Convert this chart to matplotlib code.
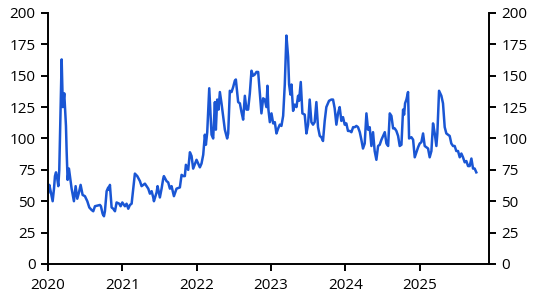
import numpy as np
import matplotlib.pyplot as plt

# fractional year, value
t = [2020.004, 2020.018, 2020.036, 2020.063, 2020.081, 2020.094, 2020.108, 2020.125,
     2020.139, 2020.152, 2020.161, 2020.184, 2020.200, 2020.219,
     2020.242, 2020.251, 2020.264, 2020.282, 2020.296, 2020.318, 2020.349, 2020.372,
     2020.394, 2020.417, 2020.439, 2020.466, 2020.497, 2020.529, 2020.556, 2020.587,
     2020.609, 2020.632, 2020.699, 2020.712, 2020.735, 2020.753, 2020.766, 2020.789,
     2020.811, 2020.824, 2020.833, 2020.856, 2020.878, 2020.901, 2020.923, 2020.959,
     2020.977, 2021.0, 2021.035, 2021.057, 2021.080, 2021.102, 2021.125, 2021.169,
     2021.201, 2021.237, 2021.259, 2021.304, 2021.349, 2021.371, 2021.394, 2021.416,
     2021.425, 2021.461, 2021.474, 2021.505, 2021.528, 2021.550, 2021.559, 2021.595,
     2021.617, 2021.640, 2021.662, 2021.694, 2021.729, 2021.774, 2021.797, 2021.819,
     2021.841, 2021.855, 2021.886, 2021.909, 2021.931, 2021.953, 2021.998, 2022.043,
     2022.065, 2022.088, 2022.110, 2022.124, 2022.142, 2022.169, 2022.200, 2022.222,
     2022.245, 2022.258, 2022.276, 2022.294, 2022.312, 2022.334, 2022.357, 2022.379,
     2022.410, 2022.424, 2022.446, 2022.469, 2022.491, 2022.513, 2022.527, 2022.558,
     2022.581, 2022.603, 2022.625, 2022.648, 2022.670, 2022.692, 2022.715, 2022.737,
     2022.759, 2022.782, 2022.804, 2022.827, 2022.849, 2022.871, 2022.894, 2022.916,
     2022.938, 2022.952, 2022.965, 2022.984, 2023.006, 2023.029, 2023.051, 2023.073,
     2023.096, 2023.118, 2023.140, 2023.163, 2023.185, 2023.207, 2023.230, 2023.243,
     2023.261, 2023.275, 2023.297, 2023.319, 2023.342, 2023.364, 2023.377, 2023.400,
     2023.422, 2023.453, 2023.476, 2023.498, 2023.520, 2023.543, 2023.565, 2023.587,
     2023.610, 2023.632, 2023.656, 2023.677, 2023.699, 2023.722, 2023.744, 2023.780,
     2023.811, 2023.834, 2023.856, 2023.879, 2023.901, 2023.923, 2023.946, 2023.968,
     2023.991, 2024.013, 2024.035, 2024.059, 2024.081, 2024.104, 2024.126, 2024.148,
     2024.170, 2024.194, 2024.215, 2024.237, 2024.260, 2024.283, 2024.305, 2024.327,
     2024.350, 2024.372, 2024.394, 2024.417, 2024.440, 2024.462, 2024.485, 2024.507,
     2024.530, 2024.552, 2024.575, 2024.597, 2024.619, 2024.642, 2024.664, 2024.686,
     2024.709, 2024.731, 2024.754, 2024.776, 2024.790, 2024.803, 2024.821, 2024.843,
     2024.857, 2024.888, 2024.911, 2024.933, 2024.955, 2024.978, 2025.0, 2025.022,
     2025.045, 2025.067, 2025.090, 2025.112, 2025.134, 2025.157, 2025.179, 2025.202,
     2025.224, 2025.237, 2025.260, 2025.291, 2025.313, 2025.336, 2025.358, 2025.381,
     2025.403, 2025.425, 2025.448, 2025.470, 2025.492, 2025.515, 2025.538, 2025.560,
     2025.582, 2025.605, 2025.627, 2025.650, 2025.672, 2025.695, 2025.717, 2025.739,
     2025.761]
v = [57, 63, 58, 50, 60, 70, 73, 68,
     62, 75, 100, 163, 125, 136,
     110, 90, 67, 76, 70, 60, 50, 62,
     52, 57, 63, 55, 54, 50, 45, 43,
     42, 46, 47, 46, 40, 38, 42, 58,
     61, 59, 63, 45, 44, 42, 49, 48,
     46, 49, 46, 48, 44, 47, 48, 72,
     70, 66, 62, 64, 60, 56, 58, 53,
     50, 57, 62, 53, 60, 68, 70, 66,
     65, 60, 62, 54, 60, 61, 71, 70,
     70, 79, 75, 89, 86, 76, 83, 77,
     80, 87, 103, 95, 105, 140, 103, 100,
     129, 107, 131, 123, 137, 128, 117, 107,
     100, 104, 138, 137, 141, 146, 147, 129,
     128, 121, 115, 134, 123, 123, 136, 154,
     150, 151, 153, 153, 136, 120, 132, 131,
     125, 142, 123, 113, 120, 112, 113, 104,
     108, 111, 110, 118, 143, 182, 165, 143,
     135, 143, 122, 127, 125, 134, 130, 145,
     120, 119, 104, 111, 131, 113, 111, 113,
     129, 109, 102, 101, 98, 114, 125, 130,
     131, 131, 124, 111, 120, 125, 114, 117,
     111, 112, 106, 106, 105, 109, 109, 110,
     109, 105, 99, 92, 96, 120, 107, 109,
     94, 105, 90, 83, 94, 95, 99, 102,
     105, 96, 94, 120, 118, 108, 108, 106,
     102, 94, 95, 123, 119, 128, 131, 137,
     100, 101, 99, 85, 89, 93, 96, 97,
     104, 94, 93, 92, 85, 90, 112, 104,
     94, 104, 138, 134, 128, 109, 104, 103,
     102, 96, 94, 94, 90, 90, 85, 88,
     85, 81, 82, 78, 78, 84, 76, 76,
     73]

years = [2020, 2021, 2022, 2023, 2024, 2025]
yticks = [0, 25, 50, 75, 100, 125, 150, 175, 200]

plt.rcParams['font.family'] = ['Open Sans', 'DejaVu Sans']
plt.rcParams['font.size'] = 11

fig = plt.figure(figsize=(5.39, 3.02), dpi=100)
ax = fig.add_axes([0.089, 0.126, 0.818, 0.831])

ax.plot(t, v, color='#1a56d4', lw=1.8)

ax.set_xlim(2020, 2025.93)
ax.set_ylim(0, 200)
ax.set_xticks(years)
ax.set_xticklabels([str(y) for y in years])
ax.set_yticks(yticks)

for s in ['left', 'right', 'bottom']:
    ax.spines[s].set_linewidth(1.4)
ax.spines['top'].set_visible(False)
ax.tick_params(axis='both', direction='out', length=5, width=1.4, colors='black')
ax.tick_params(axis='y', right=True, labelright=True, pad=4)
ax.tick_params(axis='x', pad=5)

plt.savefig('out.png', dpi=100)
